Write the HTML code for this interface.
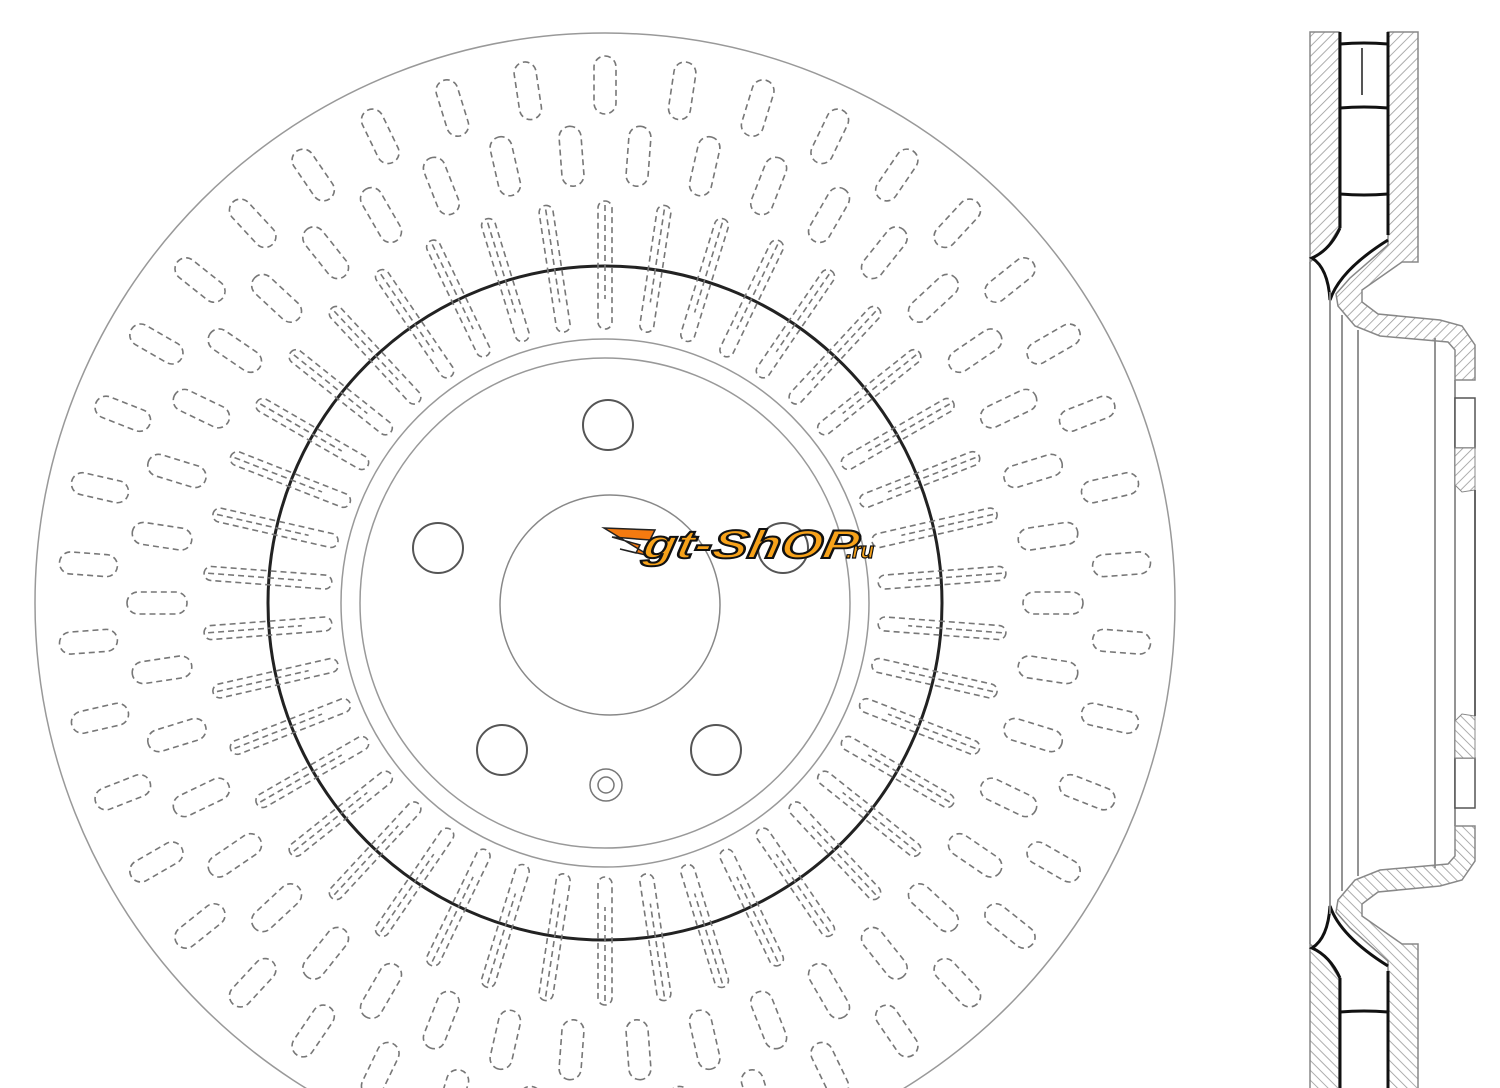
<!DOCTYPE html>
<html><head><meta charset="utf-8"><style>
html,body{margin:0;padding:0;background:#fff;width:1500px;height:1088px;overflow:hidden}
svg{display:block}
</style></head><body>
<svg id="s" width="1500" height="1088" viewBox="0 0 1500 1088" xmlns="http://www.w3.org/2000/svg">
<defs>
<pattern id="h" width="7" height="7" patternUnits="userSpaceOnUse" patternTransform="rotate(45)">
<rect width="7" height="7" fill="#fff"/><line x1="0" y1="0" x2="0" y2="7" stroke="#999" stroke-width="1.6"/>
</pattern>
</defs>
<g id="disc" fill="none">
<circle cx="605" cy="603" r="570" stroke="#999" stroke-width="1.5"/>
<circle cx="605" cy="603" r="337" stroke="#222" stroke-width="3"/>
<circle cx="605" cy="603" r="264" stroke="#999" stroke-width="1.5"/>
<circle cx="605" cy="603" r="245" stroke="#999" stroke-width="1.5"/>
<circle cx="610" cy="605" r="110" stroke="#888" stroke-width="1.5"/>
<g stroke="#555" stroke-width="2">
<circle cx="608" cy="425" r="25"/>
<circle cx="438" cy="548" r="25"/>
<circle cx="783" cy="548" r="25"/>
<circle cx="502" cy="750" r="25"/>
<circle cx="716" cy="750" r="25"/>
</g>
<circle cx="606" cy="785" r="16" stroke="#777" stroke-width="1.5"/>
<circle cx="606" cy="785" r="8" stroke="#777" stroke-width="1.5"/>
<g id="slots" stroke="#777" stroke-width="1.6" stroke-dasharray="6 4"></g>
</g>
<g id="side">
<g id="half">
<polygon points="1310,32 1339,32 1339,228 1328,246 1310,262" fill="url(#h)" stroke="#888" stroke-width="1.5"/>
<polygon points="1388,32 1418,32 1418,262 1402,262 1362,290 1362,302 1378,314 1440,320 1462,326 1475,345 1475,380 1455,380 1455,350 1448,342 1380,336 1355,326 1338,306 1336,294 1350,278 1388,245" fill="url(#h)" stroke="#888" stroke-width="1.5"/>
<g stroke="#111" stroke-width="3" fill="none">
<line x1="1340" y1="32" x2="1340" y2="228"/>
<line x1="1388" y1="32" x2="1388" y2="235"/>
<path d="M1340,44 Q1364,42 1388,44"/>
<path d="M1340,108 Q1364,106 1388,108"/>
<path d="M1340,194 Q1364,196 1388,194"/>
<path d="M1340,228 Q1330,250 1312,258 Q1328,268 1330,300 Q1340,270 1388,240"/>
</g>
<line x1="1362" y1="48" x2="1362" y2="95" stroke="#555" stroke-width="2"/>
<g stroke="#888" stroke-width="1.8">
<line x1="1310" y1="262" x2="1310" y2="603"/>
<line x1="1330" y1="292" x2="1330" y2="603"/>
<line x1="1342" y1="315" x2="1342" y2="603"/>
<line x1="1358" y1="330" x2="1358" y2="603"/>
<line x1="1435" y1="338" x2="1435" y2="603"/>
<line x1="1455" y1="380" x2="1455" y2="603"/>
</g>
<rect x="1455" y="398" width="20" height="50" fill="#fff" stroke="#555" stroke-width="1.5"/>
<polygon points="1455,448 1475,448 1475,490 1462,492 1455,485" fill="url(#h)" stroke="#888"/>
<line x1="1475" y1="490" x2="1475" y2="603" stroke="#555" stroke-width="1.8"/>
</g>
<use href="#half" transform="translate(0,1206) scale(1,-1)"/>
</g>
<g id="logo">
<path d="M604,528 L655,530 L650,540 L612,537 L640,545 L636,553 L620,549 L650,556 Z" fill="#f47a10" stroke="#222" stroke-width="1.5"/>
<text x="640" y="558" font-family="Liberation Sans, sans-serif" font-weight="bold" font-style="italic" font-size="40" fill="#f7a21a" stroke="#111" stroke-width="2" textLength="215" lengthAdjust="spacingAndGlyphs" transform="skewX(-10) translate(100,0)">gt-ShOP</text>
<text x="846" y="558" font-family="Liberation Sans, sans-serif" font-weight="bold" font-style="italic" font-size="22" fill="#f7a21a" stroke="#111" stroke-width="1.2">.ru</text>
</g>
</svg>
<script>
(function(){
var g=document.getElementById('slots'),ns='http://www.w3.org/2000/svg',cx=605,cy=603;
function ring(r,n,off,len,w,dbl){
 for(var i=0;i<n;i++){
  var a=off+i*360/n;
  var e=document.createElementNS(ns,'rect');
  e.setAttribute('x',cx-w/2);e.setAttribute('y',cy-r-len/2);
  e.setAttribute('width',w);e.setAttribute('height',len);
  e.setAttribute('rx',w/2);e.setAttribute('ry',w/2);
  e.setAttribute('transform','rotate('+a+' '+cx+' '+cy+')');
  g.appendChild(e);
  if(dbl){var l=document.createElementNS(ns,'line');
   l.setAttribute('x1',cx);l.setAttribute('x2',cx);l.setAttribute('y1',cy-r-len/2+4);l.setAttribute('y2',cy-r+len/2-30);
   l.setAttribute('transform','rotate('+a+' '+cx+' '+cy+')');g.appendChild(l);}
 }
}
ring(518,42,0,58,22,false);
ring(448,42,360/84,60,22,false);
ring(338,42,0,128,14,true);
})();
</script>
</body></html>
